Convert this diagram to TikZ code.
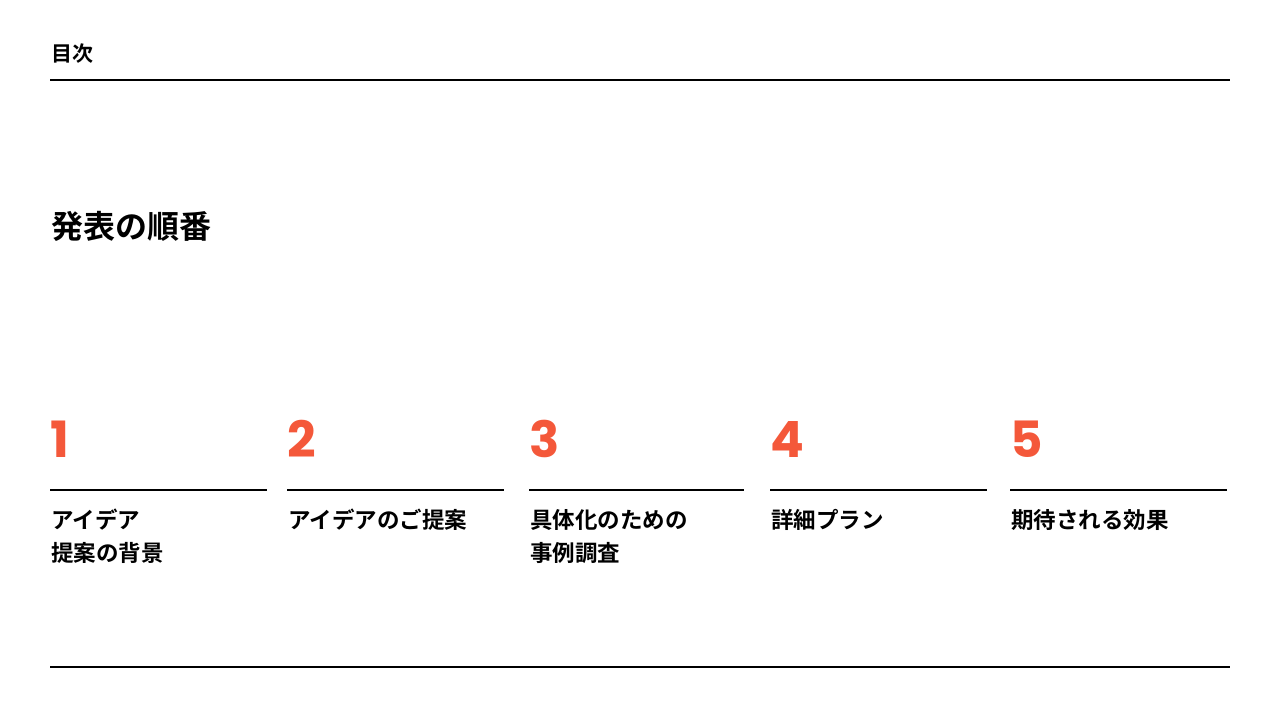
\documentclass[tikz,border=0pt]{standalone}
\usepackage{fontspec}
\newfontfamily\jp{Noto Sans CJK JP}[BoldFont={* Bold}]
\newfontfamily\num{Poppins}[BoldFont={* Bold}]
\definecolor{accent}{HTML}{F4583A}
\begin{document}
\begin{tikzpicture}[x=1pt,y=-1pt,
  rule/.style={line width=2pt,black},
  srule/.style={line width=1.6pt,black},
  numtxt/.style={anchor=base west,inner sep=0,text=accent,font=\num\bfseries\fontsize{50}{50}\selectfont},
  lbl/.style={anchor=north west,inner sep=0,align=left,font=\jp\bfseries\fontsize{22.5}{33}\selectfont}]
\useasboundingbox (0,0) rectangle (1280,720);
\node[anchor=base west,inner sep=0,font=\jp\bfseries\fontsize{21}{21}\selectfont] (toc) at (51,61) {目次};
\coordinate (t1) at (50,80); \coordinate (t2) at (1230,80);
\draw[rule] (t1) -- (t2);
\node[anchor=base west,inner sep=0,font=\jp\bfseries\fontsize{32}{32}\selectfont] (title) at (51,238) {発表の順番};
\foreach \i/\x/\e/\t in {1/50/267/{アイデア\\提案の背景},2/287/504/{アイデアのご提案},3/529/744/{具体化のための\\事例調査},4/770/987/{詳細プラン},5/1010/1227/{期待される効果}}{
  \node[numtxt] (n\i) at (\x,457) {\i};
  \coordinate (a\i) at (\x,490); \coordinate (b\i) at (\e,490);
  \draw[srule] (a\i) -- (b\i);
  \node[lbl] (l\i) at (\x+1,509) {\t};
}
\coordinate (u1) at (50,667); \coordinate (u2) at (1230,667);
\draw[rule] (u1) -- (u2);
\end{tikzpicture}
\end{document}
